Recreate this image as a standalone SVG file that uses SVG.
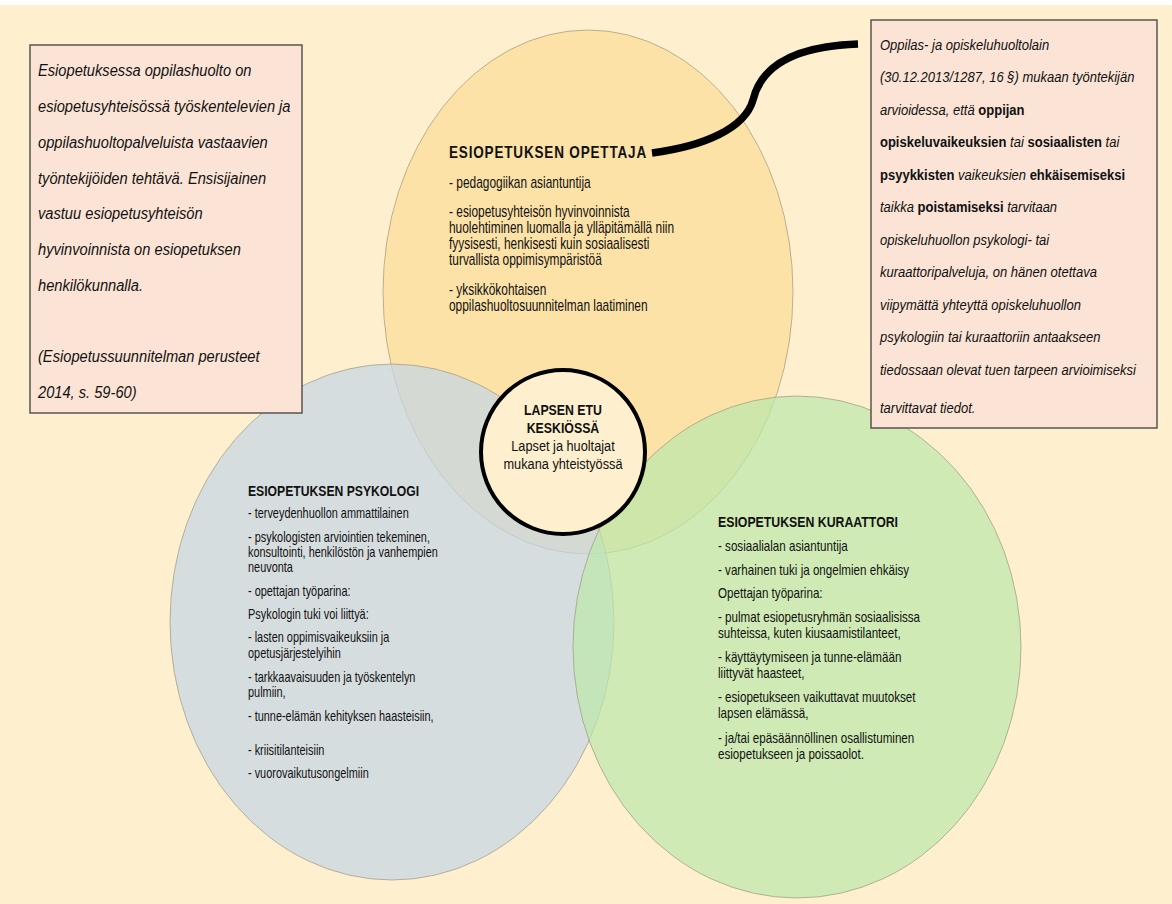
<svg xmlns="http://www.w3.org/2000/svg" width="1172" height="904" viewBox="0 0 1172 904">
<style>
.t{font-family:"Liberation Sans",Arial,sans-serif;fill:#111;}
.box{fill:#FBE4D6;stroke:#5a5450;stroke-width:1.5;}
.bi{font-style:italic;}
.b{font-weight:bold;font-style:normal;}
.ell{stroke:#9f977f;stroke-width:1;stroke-opacity:0.7;fill-opacity:0.72;}
.conn{fill:none;stroke:#000;stroke-width:7.5;}
</style>
<rect x="0" y="0" width="1172" height="904" fill="#FEF0CE"/>
<rect x="0" y="0" width="1172" height="5" fill="#ffffff"/>

<g id="ellipse-opettaja">
<ellipse class="ell" cx="588" cy="292" rx="205" ry="262" fill="#FBDC98"/>
</g>
<g id="ellipse-psykologi">
<ellipse class="ell" cx="392" cy="622" rx="222" ry="258" fill="#C6D5E6"/>
</g>
<g id="ellipse-kuraattori">
<ellipse class="ell" cx="797" cy="647" rx="224" ry="251" fill="#BDE8AB"/>
</g>

<g id="text-opettaja" class="t">
<text x="449" y="158" class="b" font-size="16.5" letter-spacing="1" transform="translate(449,0) scale(0.82,1) translate(-449,0)">ESIOPETUKSEN OPETTAJA</text>
<g font-size="16" transform="translate(449,0) scale(0.745,1) translate(-449,0)">
<text x="449" y="188">- pedagogiikan asiantuntija</text>
<text x="449" y="217">- esiopetusyhteisön hyvinvoinnista</text>
<text x="449" y="233">huolehtiminen luomalla ja ylläpitämällä niin</text>
<text x="449" y="249">fyysisesti, henkisesti kuin sosiaalisesti</text>
<text x="449" y="265">turvallista oppimisympäristöä</text>
<text x="449" y="295">- yksikkökohtaisen</text>
<text x="449" y="311">oppilashuoltosuunnitelman  laatiminen</text>
</g>
</g>

<g id="text-psykologi" class="t">
<text x="248" y="496" class="b" font-size="14" transform="translate(248,0) scale(0.87,1) translate(-248,0)">ESIOPETUKSEN PSYKOLOGI</text>
<g font-size="14" transform="translate(248,0) scale(0.78,1) translate(-248,0)">
<text x="248" y="518">- terveydenhuollon  ammattilainen</text>
<text x="248" y="542">- psykologisten arviointien  tekeminen,</text>
<text x="248" y="557">konsultointi, henkilöstön ja vanhempien</text>
<text x="248" y="572">neuvonta</text>
<text x="248" y="596">- opettajan  työparina:</text>
<text x="248" y="619">Psykologin tuki voi liittyä:</text>
<text x="248" y="642">- lasten oppimisvaikeuksiin  ja</text>
<text x="248" y="658">opetusjärjestelyihin</text>
<text x="248" y="682">- tarkkaavaisuuden  ja työskentelyn</text>
<text x="248" y="697">pulmiin,</text>
<text x="248" y="721">- tunne-elämän  kehityksen haasteisiin,</text>
<text x="248" y="755">- kriisitilanteisiin</text>
<text x="248" y="778">- vuorovaikutusongelmiin</text>
</g>
</g>

<g id="text-kuraattori" class="t">
<text x="718" y="527" class="b" font-size="14" transform="translate(718,0) scale(0.88,1) translate(-718,0)">ESIOPETUKSEN KURAATTORI</text>
<g font-size="14" transform="translate(718,0) scale(0.83,1) translate(-718,0)">
<text x="718" y="551">- sosiaalialan asiantuntija</text>
<text x="718" y="575">- varhainen tuki ja ongelmien ehkäisy</text>
<text x="718" y="598">Opettajan työparina:</text>
<text x="718" y="622">- pulmat esiopetusryhmän  sosiaalisissa</text>
<text x="718" y="638">suhteissa, kuten kiusaamistilanteet,</text>
<text x="718" y="662">- käyttäytymiseen ja tunne-elämään</text>
<text x="718" y="678">liittyvät haasteet,</text>
<text x="718" y="702">- esiopetukseen vaikuttavat  muutokset</text>
<text x="718" y="718">lapsen elämässä,</text>
<text x="718" y="743">- ja/tai epäsäännöllinen  osallistuminen</text>
<text x="718" y="759">esiopetukseen ja poissaolot.</text>
</g>
</g>

<g id="center">
<circle cx="563" cy="452" r="82" fill="#FEF0CE" stroke="#000" stroke-width="4"/>
<g class="t" text-anchor="middle" font-size="14.5">
<g transform="translate(563,0) scale(0.85,1) translate(-563,0)">
<text x="563" y="415" class="b">LAPSEN ETU</text>
<text x="563" y="433" class="b">KESKIÖSSÄ</text>
</g>
<g transform="translate(563,0) scale(0.88,1) translate(-563,0)">
<text x="563" y="451">Lapset ja huoltajat</text>
<text x="563" y="469">mukana yhteistyössä</text>
</g>
</g>
</g>

<g id="connectors">
<path class="conn" d="M652,153 C705,146 745,128 753,100 C762,62 800,46 858,44"/>
</g>

<g id="box-left">
<rect class="box" x="30" y="45" width="272" height="368"/>
<g class="t bi" font-size="17" transform="translate(38,0) scale(0.863,1) translate(-38,0)">
<text x="38" y="76">Esiopetuksessa oppilashuolto on</text>
<text x="38" y="112">esiopetusyhteisössä työskentelevien ja</text>
<text x="38" y="148">oppilashuoltopalveluista vastaavien</text>
<text x="38" y="184">työntekijöiden tehtävä.  Ensisijainen</text>
<text x="38" y="219">vastuu esiopetusyhteisön</text>
<text x="38" y="255">hyvinvoinnista on esiopetuksen</text>
<text x="38" y="291">henkilökunnalla.</text>
<text x="38" y="362">(Esiopetussuunnitelman perusteet</text>
<text x="38" y="398">2014, s. 59-60)</text>
</g>
</g>

<g id="box-right">
<rect class="box" x="871" y="20" width="286" height="408"/>
<g class="t bi" font-size="15.5" transform="translate(880,0) scale(0.84,1) translate(-880,0)">
<text x="880" y="50">Oppilas- ja opiskeluhuoltolain</text>
<text x="880" y="82">(30.12.2013/1287,  16 §) mukaan työntekijän</text>
<text x="880" y="115">arvioidessa, että <tspan class="b">oppijan</tspan></text>
<text x="880" y="147"><tspan class="b">opiskeluvaikeuksien</tspan>  tai <tspan class="b">sosiaalisten</tspan> tai</text>
<text x="880" y="180"><tspan class="b">psyykkisten</tspan>  vaikeuksien <tspan class="b">ehkäisemiseksi</tspan></text>
<text x="880" y="212">taikka <tspan class="b">poistamiseksi</tspan> tarvitaan</text>
<text x="880" y="245">opiskeluhuollon psykologi- tai</text>
<text x="880" y="277">kuraattoripalveluja, on hänen otettava</text>
<text x="880" y="310">viipymättä yhteyttä opiskeluhuollon</text>
<text x="880" y="342">psykologiin tai kuraattoriin antaakseen</text>
<text x="880" y="375">tiedossaan olevat tuen tarpeen arvioimiseksi</text>
<text x="880" y="413">tarvittavat tiedot.</text>
</g>
</g>
</svg>
